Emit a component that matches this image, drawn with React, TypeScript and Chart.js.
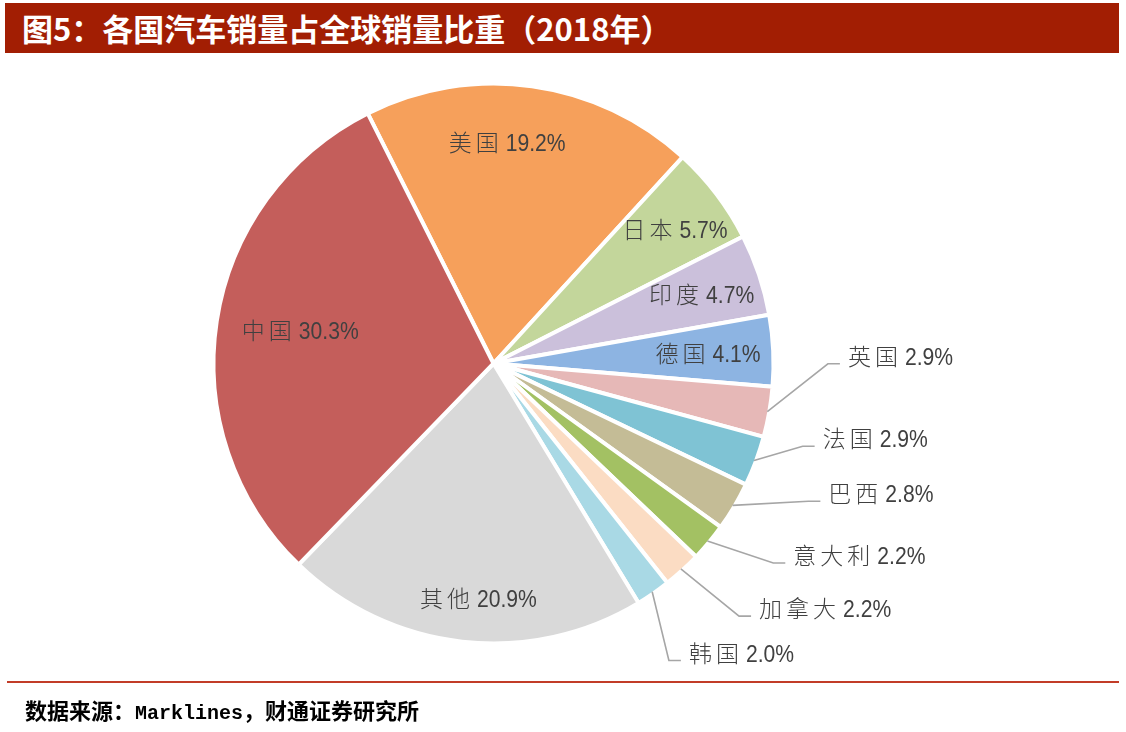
import React, { useEffect, useRef } from "react";
import { Chart, registerables } from "chart.js";

Chart.register(...registerables);

// ---- data ----
const countries = ["美国", "日本", "印度", "德国", "英国", "法国", "巴西", "意大利", "加拿大", "韩国", "其他", "中国"];
const shares = [19.2, 5.7, 4.7, 4.1, 2.9, 2.9, 2.8, 2.2, 2.2, 2.0, 20.9, 30.3];
const sliceColors = [
  "#F6A05B", "#C3D69B", "#CBC0DB", "#8DB4E2", "#E6B8B7", "#7FC3D4",
  "#C4BC96", "#A3C163", "#FBDCC3", "#A9D9E5", "#D9D9D9", "#C45E5B",
];
const titleText = "图5：各国汽车销量占全球销量比重（2018年）";
const sourceCn = "数据来源：";
const sourceLatin = "Marklines";
const sourceTail = "，财通证券研究所";

// ---- label layout (offset from slice's outer mid point; outside = leader line) ----
const labelPlacement: [number, number, boolean][] = [
  [-24.5, 53.6, false],
  [-39.8, 33.5, false],
  [-55.5, 19.2, false],
  [-63.2, 2.8, false],
  [80.6, -55.8, true],
  [68.6, -22.2, true],
  [95.8, -12.1, true],
  [85.9, 14, true],
  [78.2, 39.3, true],
  [36.7, 60.8, true],
  [16.1, -41.6, false],
  [81.6, 8.1, false],
];

const CJK_ADV = 27;
const GAP = 3;
const NUM_SCALE = 0.88;

const labelPlugin = {
  id: "sliceLabels",
  afterDatasetsDraw(chart: any) {
    const ctx: CanvasRenderingContext2D = chart.ctx;
    const meta = chart.getDatasetMeta(0);
    meta.data.forEach((arc: any, i: number) => {
      const p = arc.getProps(["x", "y", "startAngle", "endAngle", "outerRadius"], true);
      const mid = (p.startAngle + p.endAngle) / 2;
      const r = p.outerRadius - 2;
      const ax = p.x + Math.cos(mid) * r;
      const ay = p.y + Math.sin(mid) * r;
      const [dx, dy, outside] = labelPlacement[i];
      const cjk = countries[i];
      const num = shares[i].toFixed(1) + "%";
      ctx.save();
      ctx.font = '24px "Liberation Sans", Arial, sans-serif';
      const wN = ctx.measureText(num).width * NUM_SCALE;
      const total = cjk.length * CJK_ADV + GAP + wN;
      const cy = ay + dy;
      const left = outside ? ax + dx : ax + dx - total / 2;
      if (outside) {
        ctx.strokeStyle = "#A6A6A6";
        ctx.lineWidth = 1.6;
        ctx.beginPath();
        ctx.moveTo(ax, ay);
        ctx.lineTo(left - 20, cy + 8);
        ctx.lineTo(left - 8, cy + 8);
        ctx.stroke();
      }
      ctx.fillStyle = "#404040";
      ctx.textAlign = "left";
      ctx.textBaseline = "alphabetic";
      ctx.font = '300 23px "Noto Sans CJK SC", sans-serif';
      for (let k = 0; k < cjk.length; k++) {
        ctx.fillText(cjk[k], left + k * CJK_ADV, cy + 9);
      }
      ctx.font = '24px "Liberation Sans", Arial, sans-serif';
      ctx.translate(left + cjk.length * CJK_ADV + GAP, cy + 9);
      ctx.scale(NUM_SCALE, 1);
      ctx.fillText(num, 0, 0);
      ctx.restore();
    });
  },
};

export default function App() {
  const canvasRef = useRef<HTMLCanvasElement | null>(null);

  useEffect(() => {
    if (!canvasRef.current) return;
    const chart = new Chart(canvasRef.current, {
      type: "pie",
      data: {
        labels: countries,
        datasets: [
          {
            data: shares,
            backgroundColor: sliceColors,
            borderColor: "#FFFFFF",
            borderWidth: 4,
          },
        ],
      },
      options: {
        animation: false,
        responsive: true,
        maintainAspectRatio: false,
        rotation: -26.7,
        radius: 280,
        layout: { padding: { left: 0, right: 139, top: 0, bottom: 5 } },
        plugins: {
          legend: { display: false },
          tooltip: { enabled: false },
        },
        events: [],
      },
      plugins: [labelPlugin],
    });
    return () => chart.destroy();
  }, []);

  return (
    <div style={{ position: "absolute", left: 0, top: 0, width: 1126, height: 732, background: "#FFFFFF", overflow: "hidden" }}>
      <div
        style={{
          position: "absolute",
          left: 5,
          top: 3,
          width: 1114,
          height: 50,
          background: "#A21E03",
          color: "#FFFFFF",
          fontFamily: '"Noto Sans CJK SC", sans-serif',
          fontWeight: 700,
          fontSize: 31,
          lineHeight: "50px",
          paddingLeft: 17,
          boxSizing: "border-box",
          whiteSpace: "nowrap",
        }}
      >
        {titleText}
      </div>
      <div style={{ position: "absolute", left: 0, top: 0, width: 1126, height: 732 }}>
        <canvas ref={canvasRef} />
      </div>
      <div style={{ position: "absolute", left: 7, top: 681, width: 1112, height: 2, background: "#C23C28" }} />
      <div
        style={{
          position: "absolute",
          left: 25,
          top: 696,
          height: 26,
          lineHeight: "26px",
          fontFamily: '"Noto Sans CJK SC", sans-serif',
          fontWeight: 700,
          fontSize: 22,
          color: "#000000",
          whiteSpace: "nowrap",
        }}
      >
        {sourceCn}
        <span style={{ fontFamily: '"Liberation Mono", monospace', fontSize: 20 }}>{sourceLatin}</span>
        {sourceTail}
      </div>
    </div>
  );
}
